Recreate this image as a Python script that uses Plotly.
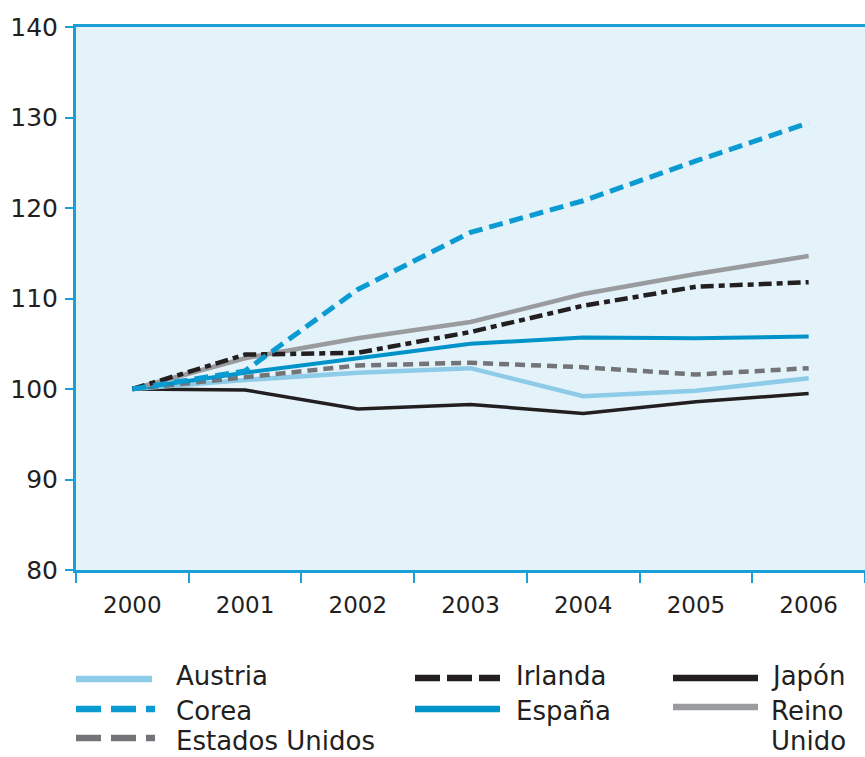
import plotly.graph_objects as go

years = ["2000", "2001", "2002", "2003", "2004", "2005", "2006"]

austria = [100, 101.0, 101.8, 102.3, 99.2, 99.8, 101.2]
corea = [100, 102.0, 111.0, 117.3, 120.8, 125.2, 129.4]
estados_unidos = [100, 101.3, 102.6, 102.9, 102.4, 101.6, 102.3]
irlanda = [100, 103.8, 104.0, 106.3, 109.2, 111.3, 111.8]
espana = [100, 101.8, 103.4, 105.0, 105.7, 105.6, 105.8]
japon = [100, 99.9, 97.8, 98.3, 97.3, 98.6, 99.5]
reino_unido = [100, 103.4, 105.6, 107.4, 110.5, 112.7, 114.7]

W, H = 865, 757
L, R, T, B = 76, 0, 27, 187
PW, PH = W - L - R, H - T - B

series = [
    ("Japón", japon, "#231f20", "solid", 3.5),
    ("Austria", austria, "#8dcbe9", "solid", 4.5),
    ("Estados Unidos", estados_unidos, "#737477", "10px,6px", 4.5),
    ("España", espana, "#0093c9", "solid", 4),
    ("Reino Unido", reino_unido, "#9a9b9e", "solid", 4.5),
    ("Irlanda", irlanda, "#231f20", "13px,5px,6px,5px", 4.5),
    ("Corea", corea, "#0a9bd2", "14px,7px", 5),
]

fig = go.Figure()
for name, vals, color, dash, width in series:
    fig.add_trace(go.Scatter(x=years, y=vals, mode="lines", name=name,
                             line=dict(color=color, dash=dash, width=width),
                             showlegend=False))

def px2paper(x, y):
    return (x - L) / PW, (H - B - y) / PH

font_fam = "DejaVu Sans"
legend_lines = [
    ("#8dcbe9", "solid", 76, 152, 679),
    ("#0a9bd2", "25px,10px", 76, 155, 709),
    ("#737477", "25px,10px", 76, 155, 738),
    ("#231f20", "25px,7px", 415, 500, 678),
    ("#0093c9", "solid", 415, 500, 709),
    ("#231f20", "solid", 673, 758, 678),
    ("#9a9b9e", "solid", 673, 758, 707),
]
legend_texts = [
    # label, x, y, anchor
    ("Austria", 175, 676, "middle"),
    ("Corea", 175, 711, "middle"),
    ("Estados Unidos", 175, 757, "bottom"),
    ("Irlanda", 515, 676, "middle"),
    ("España", 515, 711, "middle"),
    ("Japón", 770, 676, "middle"),
    ("Reino", 770, 711, "middle"),
    ("Unido", 770, 757, "bottom"),
]
for color, dash, x0, x1, y in legend_lines:
    a0, b0 = px2paper(x0, y)
    a1, _ = px2paper(x1, y)
    fig.add_shape(type="line", xref="paper", yref="paper", x0=a0, x1=a1, y0=b0, y1=b0,
                  line=dict(color=color, dash=dash, width=6.5))
for label, tx, ty, anchor in legend_texts:
    ta, tb = px2paper(tx, ty)
    fig.add_annotation(xref="paper", yref="paper", x=ta, y=tb, text=label,
                       showarrow=False, xanchor="left", yanchor=anchor, align="left",
                       borderpad=0,
                       font=dict(family=font_fam, size=26, color="#231f20"))

axis_color = "#1aa0d6"
fig.update_layout(
    width=W, height=H,
    margin=dict(l=L, r=R, t=T, b=B),
    paper_bgcolor="white",
    plot_bgcolor="#e4f2fa",
    font=dict(family=font_fam, size=22, color="#231f20"),
    xaxis=dict(type="category", range=[-0.5, 6.5], showgrid=False, zeroline=False,
               showline=True, linecolor=axis_color, linewidth=3, mirror=True,
               ticks="outside", tickson="boundaries", ticklen=10, tickwidth=2,
               tickcolor=axis_color, ticklabelstandoff=12, automargin=False,
               tickfont=dict(family=font_fam, size=23, color="#231f20")),
    yaxis=dict(range=[80, 140], dtick=10, showgrid=False, zeroline=False,
               showline=True, linecolor=axis_color, linewidth=3, mirror=True,
               ticks="outside", ticklen=8, tickwidth=2, tickcolor=axis_color,
               ticklabelstandoff=2, automargin=False,
               tickfont=dict(family=font_fam, size=25, color="#231f20")),
)

fig.write_html("out.html", config={"displayModeBar": False},
               post_script="document.body.style.margin='0';document.body.style.overflow='hidden';")
